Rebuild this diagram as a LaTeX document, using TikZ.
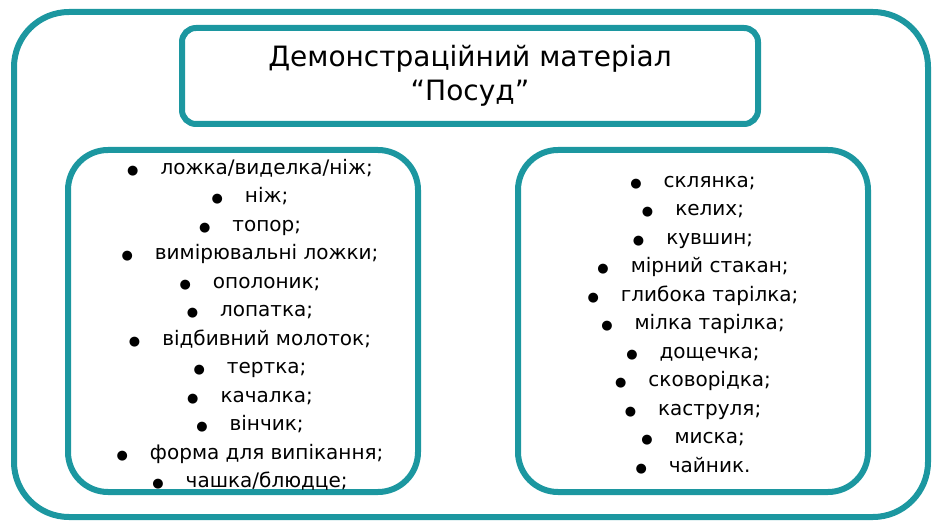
\documentclass[tikz,border=0pt]{standalone}
\usepackage{fontspec}
\setmainfont{DejaVu Sans}
\definecolor{teal1}{HTML}{1C97A0}
\tikzset{
  frame/.style = {draw=teal1, line width=6pt, rounded corners=#1},
  frame/.default = 40pt,
  listtext/.style = {align=center, font=\fontsize{20}{28.5}\selectfont},
}
\newcommand{\itm}[1]{{\fontsize{13}{13}\selectfont●}\hspace{1.1em}#1}
\begin{document}
\begin{tikzpicture}[x=1pt, y=-1pt]
\useasboundingbox (0,0) rectangle (940,529);
\draw[frame=55pt] (14,12) rectangle (928,517);
\draw[frame=14pt] (182,28) rectangle (758,124);
\draw[frame] (68,150) rectangle (418,492);
\draw[frame] (518,150) rectangle (868,492);
\node[align=center, font=\fontsize{28}{34}\selectfont] (title) at (470,76)
  {Демонстраційний матеріал\\“Посуд”};
\node[listtext] (left) at (250,325) {
  \itm{ложка/виделка/ніж;}\\ \itm{ніж;}\\ \itm{топор;}\\
  \itm{вимірювальні ложки;}\\ \itm{ополоник;}\\ \itm{лопатка;}\\
  \itm{відбивний молоток;}\\ \itm{тертка;}\\ \itm{качалка;}\\
  \itm{вінчик;}\\ \itm{форма для випікання;}\\ \itm{чашка/блюдце;}};
\node[listtext] (right) at (693,325) {
  \itm{склянка;}\\ \itm{келих;}\\ \itm{кувшин;}\\ \itm{мірний стакан;}\\
  \itm{глибока тарілка;}\\ \itm{мілка тарілка;}\\ \itm{дощечка;}\\
  \itm{сковорідка;}\\ \itm{каструля;}\\ \itm{миска;}\\ \itm{чайник.}};
\end{tikzpicture}
\end{document}
